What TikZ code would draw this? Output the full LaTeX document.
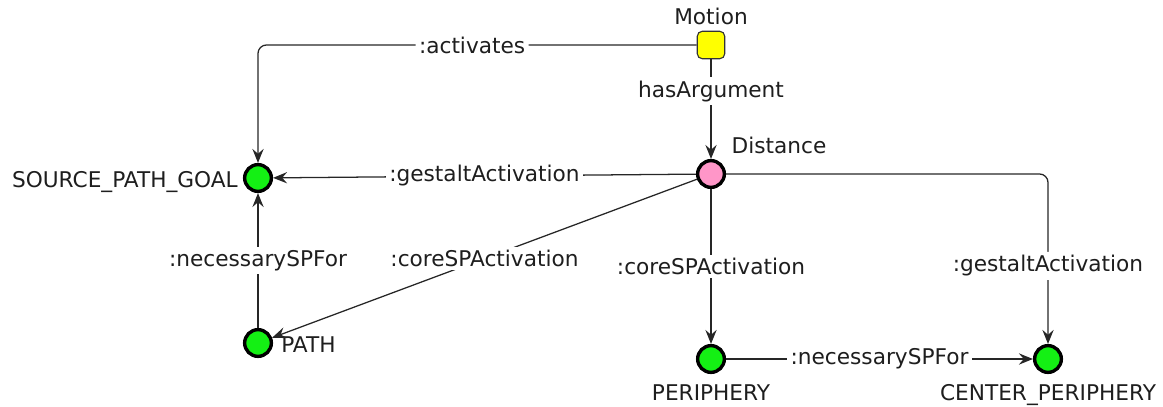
\documentclass[tikz,border=0pt]{standalone}
\usepackage{fontspec}
\setmainfont{DejaVu Sans}
\usetikzlibrary{arrows.meta,positioning}
\definecolor{frameyellow}{RGB}{255,255,0}
\definecolor{argpink}{RGB}{255,150,200}
\definecolor{schemagreen}{RGB}{20,240,20}
\definecolor{inkgray}{RGB}{30,30,30}
\tikzset{
  frame/.style={rectangle, draw=black!80, line width=0.8pt, rounded corners=3.5pt,
                fill=frameyellow, minimum size=19.5pt, inner sep=0},
  argument/.style={circle, draw=black, line width=2.4pt, fill=argpink,
                   minimum size=19pt, inner sep=0},
  schema/.style={circle, draw=black, line width=2.4pt, fill=schemagreen,
                 minimum size=19pt, inner sep=0},
  tag/.style={inner sep=0, anchor=base, text=inkgray},
  rel/.style={->, line width=0.9pt, draw=black!85},
  edgelbl/.style={fill=white, inner sep=2.5pt, text=inkgray}
}
\begin{document}
\begin{tikzpicture}[x=0.025cm, y=-0.025cm,
    >={Stealth[length=10pt,width=8pt,inset=3.5pt]},
    every node/.append style={font=\fontsize{15.4}{18}\selectfont}]
  \useasboundingbox (0,0) rectangle (1163,407);
  % concepts
  \node[frame]    (motion)     at (711,45)  {};
  \node[argument] (distance)   at (711,174) {};
  \node[schema]   (spg)        at (258,178) {};
  \node[schema]   (path)       at (258,343) {};
  \node[schema]   (periphery)  at (711,359) {};
  \node[schema]   (cperiphery) at (1048,359) {};
  % names
  \node[tag] (motiontag) at (711,25) {Motion};
  \node[tag] (disttag) at (779,153) {Distance};
  \node[tag, anchor=base east] (spgtag) at (238,187) {SOURCE\_PATH\_GOAL};
  \node[tag, anchor=base west] (pathtag) at (281,352) {PATH};
  \node[tag] (pertag) at (711,400) {PERIPHERY};
  \node[tag] (cptag) at (1048,400) {CENTER\_PERIPHERY};
  % relations
  \draw[rel, rounded corners=6pt] (motion.west) -| node[edgelbl, pos=0.256] {:activates} (spg.north);
  \draw[rel] (motion) -- node[edgelbl, pos=0.32] {hasArgument} (distance);
  \draw[rel] (distance) -- node[edgelbl] {:gestaltActivation} (spg);
  \draw[rel] (distance) -- node[edgelbl] {:coreSPActivation} (path);
  \draw[rel] (distance) -- node[edgelbl] {:coreSPActivation} (periphery);
  \draw[rel, rounded corners=6pt] (distance.east) -| node[edgelbl, pos=0.77] {:gestaltActivation} (cperiphery.north);
  \draw[rel] (path) -- node[edgelbl] {:necessarySPFor} (spg);
  \draw[rel] (periphery) -- node[edgelbl] {:necessarySPFor} (cperiphery);
\end{tikzpicture}
\end{document}
